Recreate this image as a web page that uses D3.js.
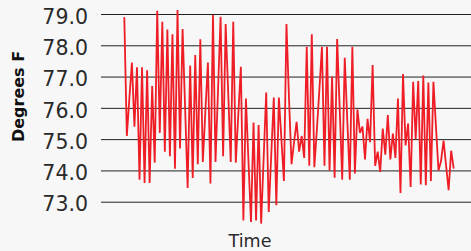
<!DOCTYPE html>
<html>
<head>
<meta charset="utf-8">
<script src="https://cdn.jsdelivr.net/npm/d3@7"></script>
<style>
  html, body { margin: 0; padding: 0; background: #f7f7f7; }
  svg { display: block; }
</style>
</head>
<body>
<div id="chart"></div>
<script>
// one reading per time step, degrees F
const temps = [
  78.9, 75.1, 76.3, 77.45, 75.4, 77.3, 73.7, 77.3, 73.6, 77.2,
  73.6, 76.7, 74.25, 79.1, 75.2, 78.75, 74.6, 78.5, 74.45, 78.35,
  74.05, 79.13, 74.7, 78.52, 76.0,
  73.44, 77.35, 73.76, 77.69, 74.2, 78.19, 74.27, 75.9, 77.45, 73.58,
  78.97, 74.27, 76.6, 78.91, 74.45, 78.68, 76.5, 74.27, 78.75, 74.25,
  75.8, 77.31, 72.4, 76.3, 74.3, 72.35, 75.53, 72.4, 75.45, 72.3,
  74.4, 76.49, 72.67, 74.5, 76.33, 72.89, 76.33, 75.0, 73.66, 78.68,
  76.3, 74.2, 74.9, 75.55, 74.6, 75.1, 74.4, 77.95, 74.15, 78.35,
  74.1, 75.3, 76.6, 77.95, 74.15, 77.95, 74.0, 77.0, 73.77, 78.2,
  76.0, 73.7, 77.6, 75.6, 73.7, 77.95, 73.9, 75.95, 75.2, 75.4,
  74.35, 75.65, 74.9, 77.37, 74.15, 74.6, 73.95, 75.34, 74.5, 75.77,
  74.35, 75.18, 74.4, 76.3, 73.28, 77.08, 74.8, 75.5, 73.47, 76.83,
  75.0, 76.86, 73.55, 77.03, 73.53, 76.81, 73.66, 76.83, 75.4, 74.0,
  74.3, 74.95, 74.15, 73.37, 74.63, 74.06
];
const yTicks = [73, 74, 75, 76, 77, 78, 79];
const yLabel = "Degrees F";
const xLabel = "Time";

const W = 471, H = 251;
const margin = { top: 14, right: 0, bottom: 49.3, left: 101 };
const width = W - margin.left - margin.right;
const height = H - margin.top - margin.bottom;
const font = "'DejaVu Sans', sans-serif";

const svg = d3.select("#chart")
  .append("svg")
  .attr("width", W)
  .attr("height", H)
  .style("background", "#f7f7f7");

const g = svg.append("g")
  .attr("transform", "translate(" + margin.left + "," + margin.top + ")");

const x = d3.scaleLinear()
  .domain([0, temps.length - 1])
  .range([23.3, width - 17.3]);

const y = d3.scaleLinear()
  .domain([73, 79])
  .range([height, 0]);

// gridlines + labels come from the axis
const yAxis = g.append("g")
  .call(d3.axisLeft(y)
    .tickValues(yTicks)
    .tickFormat(d3.format(".1f"))
    .tickSize(-width)
    .tickPadding(13));

yAxis.select(".domain").remove();
yAxis.selectAll(".tick line")
  .attr("stroke", "#222")
  .attr("stroke-width", 1);
yAxis.selectAll(".tick text")
  .attr("font-family", font)
  .attr("font-size", 20.5)
  .attr("fill", "#2a2a2a")
  .attr("dy", "0.45em");

const line = d3.line()
  .x((d, i) => x(i))
  .y(d => y(d));

g.append("path")
  .datum(temps)
  .attr("fill", "none")
  .attr("stroke", "#ee1d26")
  .attr("stroke-width", 1.8)
  .attr("stroke-linejoin", "miter")
  .attr("d", line);

// axis titles
svg.append("text")
  .attr("transform", "translate(24,96.5) rotate(-90)")
  .attr("text-anchor", "middle")
  .attr("font-family", font)
  .attr("font-weight", "bold")
  .attr("font-size", 16)
  .attr("fill", "#111")
  .text(yLabel);

svg.append("text")
  .attr("x", 250)
  .attr("y", 247)
  .attr("text-anchor", "middle")
  .attr("font-family", font)
  .attr("font-size", 17.5)
  .attr("fill", "#2a2a2a")
  .text(xLabel);
</script>
</body>
</html>
